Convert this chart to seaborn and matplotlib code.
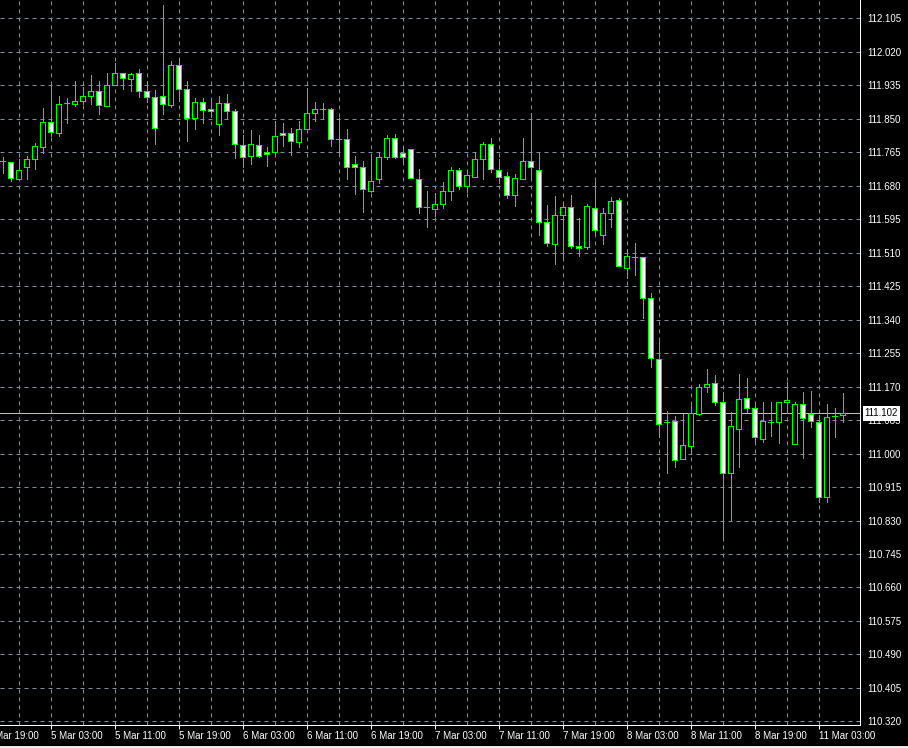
import numpy as np
import pandas as pd
import matplotlib
matplotlib.use("Agg")
import matplotlib.pyplot as plt
import matplotlib.transforms as mtransforms
import seaborn as sns

# hourly USDJPY-like candles
opens = [111.744, 111.741, 111.698, 111.727, 111.747, 111.779, 111.843, 111.813, 111.889, 111.888,
         111.894, 111.909, 111.920, 111.883, 111.935, 111.965, 111.952, 111.965, 111.920, 111.904,
         111.907, 111.885, 111.986, 111.925, 111.851, 111.892, 111.874, 111.836, 111.889, 111.869,
         111.783, 111.755, 111.783, 111.765, 111.766, 111.813, 111.813, 111.792, 111.824, 111.864,
         111.875, 111.874, 111.798, 111.798, 111.734, 111.728, 111.667, 111.698, 111.754, 111.800,
         111.762, 111.772, 111.696, 111.625, 111.622, 111.633, 111.667, 111.719, 111.680, 111.703,
         111.749, 111.785, 111.721, 111.704, 111.657, 111.696, 111.742, 111.721, 111.589, 111.532,
         111.605, 111.625, 111.527, 111.524, 111.623, 111.554, 111.610, 111.644, 111.472, 111.500,
         111.498, 111.396, 111.239, 111.081, 111.082, 110.985, 111.020, 111.100, 111.168, 111.178,
         111.130, 110.951, 111.063, 111.140, 111.115, 111.036, 111.081, 111.081, 111.130, 111.023,
         111.127, 111.100, 111.081, 110.889, 111.095, 111.097]
highs = [111.752, 111.741, 111.747, 111.755, 111.788, 111.877, 111.942, 111.907, 111.902, 111.946,
         111.930, 111.960, 111.946, 111.966, 111.991, 111.965, 111.965, 111.976, 111.946, 111.923,
         112.139, 111.997, 112.001, 111.946, 111.902, 111.902, 111.899, 111.909, 111.912, 111.875,
         111.810, 111.821, 111.808, 111.778, 111.844, 111.839, 111.826, 111.844, 111.927, 111.893,
         111.891, 111.878, 111.853, 111.824, 111.755, 111.743, 111.753, 111.762, 111.809, 111.811,
         111.781, 111.774, 111.722, 111.666, 111.661, 111.689, 111.727, 111.724, 111.720, 111.762,
         111.791, 111.800, 111.748, 111.715, 111.710, 111.800, 111.864, 111.762, 111.631, 111.654,
         111.639, 111.656, 111.597, 111.634, 111.692, 111.624, 111.651, 111.648, 111.519, 111.534,
         111.498, 111.407, 111.286, 111.108, 111.095, 111.101, 111.122, 111.177, 111.214, 111.199,
         111.155, 111.105, 111.202, 111.191, 111.126, 111.131, 111.131, 111.130, 111.182, 111.132,
         111.155, 111.158, 111.098, 111.127, 111.115, 111.153]
lows = [111.713, 111.693, 111.696, 111.698, 111.722, 111.764, 111.805, 111.807, 111.840, 111.883,
        111.887, 111.888, 111.863, 111.883, 111.935, 111.926, 111.921, 111.906, 111.893, 111.786,
        111.863, 111.881, 111.894, 111.794, 111.825, 111.840, 111.855, 111.810, 111.852, 111.750,
        111.727, 111.736, 111.754, 111.731, 111.764, 111.782, 111.759, 111.779, 111.824, 111.845,
        111.851, 111.781, 111.758, 111.697, 111.659, 111.614, 111.664, 111.686, 111.748, 111.751,
        111.741, 111.699, 111.611, 111.576, 111.603, 111.624, 111.644, 111.672, 111.665, 111.703,
        111.698, 111.716, 111.686, 111.649, 111.629, 111.696, 111.698, 111.555, 111.527, 111.482,
        111.498, 111.521, 111.502, 111.519, 111.555, 111.533, 111.576, 111.475, 111.445, 111.453,
        111.343, 111.219, 111.043, 110.951, 110.965, 110.985, 110.999, 111.098, 111.157, 111.122,
        110.781, 110.831, 110.967, 111.106, 111.030, 111.030, 111.045, 111.026, 111.104, 111.023,
        110.989, 111.068, 110.878, 110.878, 111.043, 111.081]
closes = [111.743, 111.699, 111.719, 111.747, 111.781, 111.843, 111.816, 111.887, 111.889, 111.894,
          111.909, 111.920, 111.884, 111.935, 111.965, 111.953, 111.964, 111.920, 111.904, 111.826,
          111.887, 111.986, 111.925, 111.852, 111.892, 111.871, 111.869, 111.889, 111.869, 111.785,
          111.752, 111.787, 111.755, 111.760, 111.805, 111.808, 111.793, 111.823, 111.864, 111.876,
          111.874, 111.798, 111.798, 111.727, 111.728, 111.671, 111.693, 111.754, 111.800, 111.754,
          111.754, 111.699, 111.625, 111.625, 111.633, 111.667, 111.720, 111.680, 111.706, 111.747,
          111.785, 111.723, 111.703, 111.657, 111.699, 111.742, 111.727, 111.589, 111.535, 111.605,
          111.626, 111.528, 111.521, 111.628, 111.567, 111.610, 111.641, 111.475, 111.502, 111.500,
          111.396, 111.242, 111.074, 111.080, 110.984, 111.021, 111.102, 111.168, 111.177, 111.130,
          110.950, 111.069, 111.138, 111.115, 111.041, 111.082, 111.081, 111.130, 111.137, 111.127,
          111.089, 111.083, 110.889, 111.094, 111.095, 111.102]

# trading hours (weekend skipped)
times = list(pd.date_range("2019-03-04 21:00", "2019-03-08 23:00", freq="h")) + \
        list(pd.date_range("2019-03-11 00:00", "2019-03-11 06:00", freq="h"))
price_ticks = [round(110.320 + 0.085 * i, 3) for i in range(22)]
bid = 111.102

df = pd.DataFrame({"time": times, "open": opens, "high": highs, "low": lows, "close": closes})
df["idx"] = np.arange(len(df))
df["bear"] = df["close"] < df["open"]

sns.set_theme(style="dark", rc={
    "figure.facecolor": "black", "axes.facecolor": "black",
    "savefig.facecolor": "black", "axes.edgecolor": "white",
})
plt.rcParams["font.family"] = ["Liberation Sans", "DejaVu Sans"]

lime = "#00ff00"
gridc = "#8090a0"
px = 0.72  # one pixel in points at 100 dpi

fig = plt.figure(figsize=(9.08, 7.48), dpi=100)
ax = fig.add_axes([0, 23 / 748, 860 / 908, 725 / 748])

# wicks then bodies
ax.vlines(df["idx"], df["low"], df["high"], color=lime, lw=px, zorder=3, antialiased=False)
body_lo = np.minimum(df["open"], df["close"])
body_h = (df["open"] - df["close"]).abs()
ax.bar(df["idx"], body_h, bottom=body_lo, width=0.6,
       color=np.where(df["bear"], "white", "black"), edgecolor=lime, linewidth=px,
       zorder=4, antialiased=False)

# bid line and label
ax.axhline(bid, color="#c0c0c0", lw=px, zorder=2, antialiased=False)
tr = mtransforms.blended_transform_factory(ax.transAxes, ax.transData)
ax.text(1.0055, bid, f"{bid:.3f}", transform=tr, ha="left", va="center", fontsize=7,
        color="black", clip_on=False, zorder=6,
        bbox=dict(boxstyle="square,pad=0.22", fc="white", ec="none"))

ax.set_xlim(-0.33, 107.17)
ax.set_ylim(110.3108, 112.1515)

# axes ticks
lab_idx = [i for i, t in enumerate(times) if t.hour in (3, 11, 19)]
lab_txt = [f"{times[i].day} {times[i]:%b %H:%M}" for i in lab_idx]
grid_idx = [i for i in range(2, len(times), 4) if i not in lab_idx]
ax.set_xticks(lab_idx)
ax.set_xticklabels(lab_txt, ha="left")
ax.set_xticks(grid_idx, minor=True)
ax.yaxis.tick_right()
ax.set_yticks(price_ticks)
ax.set_yticklabels([f"{p:.3f}" for p in price_ticks])
ax.tick_params(axis="both", which="major", colors="white", labelsize=7, length=3, width=px,
               direction="out", labelcolor="white")
ax.tick_params(axis="x", which="major", pad=1.5, bottom=True)
ax.tick_params(axis="y", which="major", pad=2, right=True)
ax.tick_params(axis="x", which="minor", length=0)

# partly visible first label (left of the chart)
trx = mtransforms.blended_transform_factory(ax.transData, ax.transAxes)
first = times[0] - pd.Timedelta(hours=2)
ax.text(-2, -0.0086, f"{first.day} {first:%b %H:%M}", transform=trx, ha="left", va="top",
        fontsize=7, color="white", clip_on=False)

ax.grid(True, which="both", axis="x", color=gridc, lw=px, ls=(0, (4, 4)))
ax.grid(True, which="major", axis="y", color=gridc, lw=px, ls=(0, (4, 4)))
ax.set_axisbelow(True)

sns.despine(ax=ax, left=True, top=True, right=False, bottom=False)
for s in ("right", "bottom"):
    ax.spines[s].set_color("white")
    ax.spines[s].set_linewidth(px)

# thin window border at the very bottom
fig.patches.append(plt.Rectangle((0, 0), 1, 2 / 748, transform=fig.transFigure,
                                 fc="#e8e8e8", ec="none"))

fig.savefig("out.png", dpi=100)
